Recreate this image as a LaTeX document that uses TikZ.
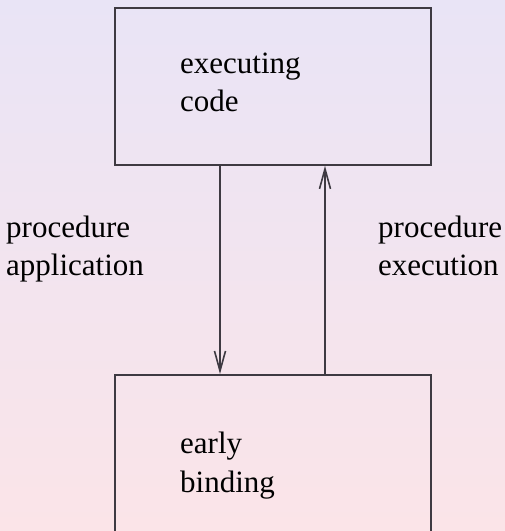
\documentclass[tikz,border=0pt]{standalone}
\usepackage{fontspec}
\setmainfont{Liberation Serif}
\newfontfamily\labelfont{Liberation Serif}
\usetikzlibrary{arrows.meta}
\definecolor{bgtop}{RGB}{233,228,246}
\definecolor{bgbot}{RGB}{251,228,232}
\definecolor{edge}{RGB}{62,58,66}
\tikzset{
  box/.style={draw=edge, line width=1.8pt, rectangle, inner sep=0pt},
  lbl/.style={anchor=base west, inner sep=0pt, font=\labelfont\fontsize{31}{38}\selectfont, text=black},
  flow/.style={draw=edge, line width=1.8pt, -{Straight Barb[length=20pt,width=11pt,line width=1.6pt]}}
}
\begin{document}
\begin{tikzpicture}[x=1pt,y=-1pt]
  \useasboundingbox (0,0) rectangle (505,531);
  \shade[top color=bgtop, bottom color=bgbot] (0,0) rectangle (505,531);
  \begin{scope}
    \clip (0,0) rectangle (505,531);
    % upper box: executing code
    \node[box, minimum width=316pt, minimum height=157pt, anchor=north west] (exec) at (114,7) {};
    \node[lbl] (execA) at (180,73) {executing};
    \node[lbl] (execB) at (180,111.5) {code};
    % lower box: early binding (runs off the page)
    \node[box, minimum width=316pt, minimum height=180pt, anchor=north west] (bind) at (114,374) {};
    \node[lbl] (bindA) at (180,453) {early};
    \node[lbl] (bindB) at (180,492.5) {binding};
  \end{scope}
  % connectors
  \coordinate (apx) at (220,0);
  \coordinate (exx) at (325,0);
  \draw[flow] (exec.south -| apx) -- (bind.north -| apx);
  \draw[flow] (bind.north -| exx) -- (exec.south -| exx);
  % connector labels
  \node[lbl] (appA) at (6,237) {procedure};
  \node[lbl] (appB) at (6,275) {application};
  \node[lbl] (exeA) at (378,237) {procedure};
  \node[lbl] (exeB) at (378,275) {execution};
\end{tikzpicture}
\end{document}
